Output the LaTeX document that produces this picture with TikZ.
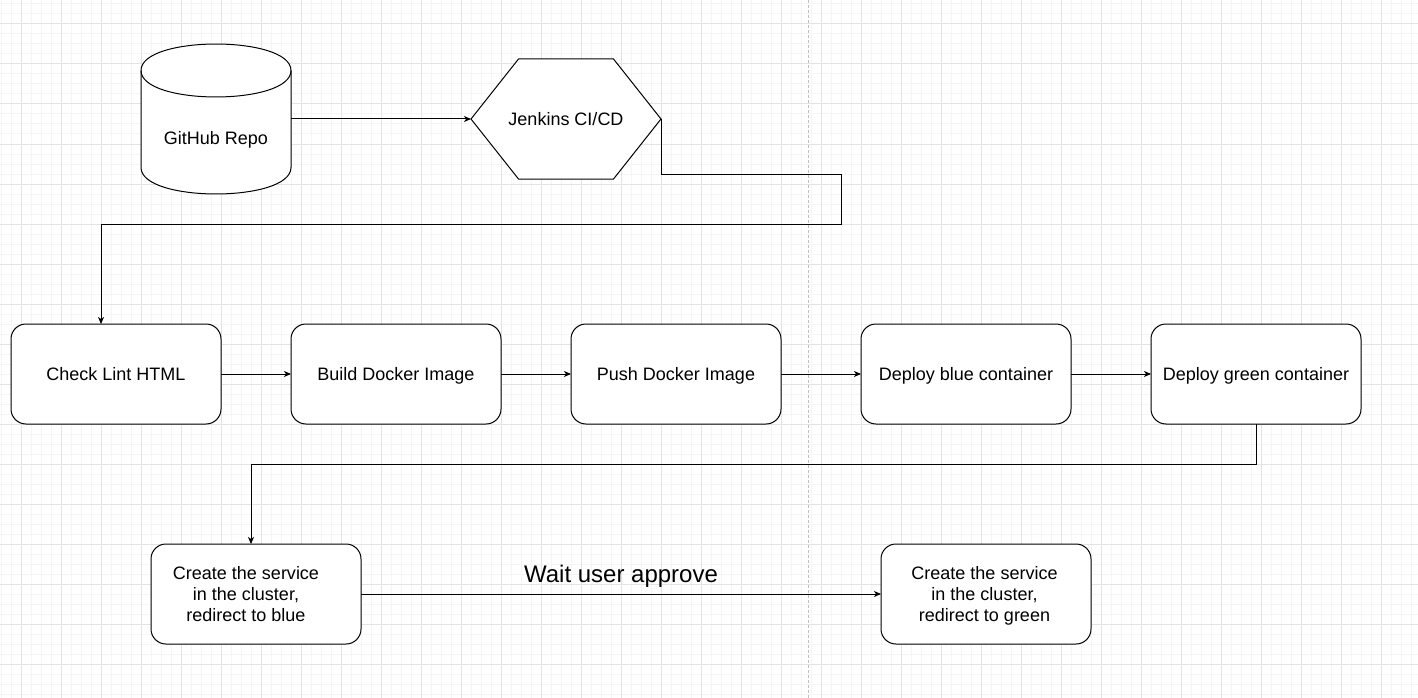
\documentclass[tikz,border=0pt]{standalone}
\usepackage{fontspec}
\setmainfont{Liberation Sans}
\usetikzlibrary{arrows.meta,calc}
\newcommand\boxfont{\fontsize{18}{21}\selectfont}
\newcommand\bigfont{\fontsize{24}{28}\selectfont}
\definecolor{gridminor}{HTML}{F5F5F5}
\definecolor{gridmajor}{HTML}{E3E3E3}
\definecolor{pagebreak}{HTML}{C0C0C0}
\begin{document}
\begin{tikzpicture}[x=1pt,y=-1pt,line width=1pt,
  minorgrid/.style={draw=gridminor,line width=1pt},
  majorgrid/.style={draw=gridmajor,line width=1pt},
  shapeline/.style={draw=black,fill=white,line width=1pt},
  box/.style={draw=black,fill=white,rounded corners=15pt,minimum width=210pt,minimum height=100pt,inner sep=0pt,outer sep=0pt,font=\boxfont,text height=12pt,text depth=0pt},
  mbox/.style={draw=black,fill=white,rounded corners=15pt,minimum width=210pt,minimum height=100pt,inner sep=0pt,outer sep=0pt},
  mtext/.style={font=\boxfont,align=center,inner sep=0pt},
  conn/.style={draw=black,line width=1pt,-{Stealth[length=7pt,width=6pt,inset=2pt]}}]
\useasboundingbox (0,0) rectangle (1418,698);
\fill[white] (0,0) rectangle (1418,698);
% grid
\foreach \x in {1,11,...,1411} \draw[minorgrid] (\x,0) -- (\x,698);
\foreach \y in {4,14,...,694} \draw[minorgrid] (0,\y) -- (1418,\y);
\foreach \x in {21,61,...,1401} \draw[majorgrid] (\x,0) -- (\x,698);
\foreach \y in {24,64,...,664} \draw[majorgrid] (0,\y) -- (1418,\y);
% page break
\draw[pagebreak,line width=1pt,dash pattern=on 3pt off 2pt] (808.5,0) -- (808.5,698);
% cylinder
\coordinate (rc) at (216,119);
\path[shapeline] ($(rc)+(-75,-48.5)$)
  .. controls ($(rc)+(-75,-83.8)$) and ($(rc)+(75,-83.8)$) .. ($(rc)+(75,-48.5)$)
  -- ($(rc)+(75,48.5)$)
  .. controls ($(rc)+(75,83.8)$) and ($(rc)+(-75,83.8)$) .. ($(rc)+(-75,48.5)$) -- cycle;
\draw[black,line width=1pt] ($(rc)+(-75,-48.5)$)
  .. controls ($(rc)+(-75,-13.2)$) and ($(rc)+(75,-13.2)$) .. ($(rc)+(75,-48.5)$);
\node[minimum width=150pt,minimum height=150pt,inner sep=0pt,outer sep=0pt] (repo) at (rc) {};
\node[font=\boxfont,anchor=base,inner sep=0pt] (repotext) at (216,144.5) {GitHub Repo};
% hexagon
\coordinate (jc) at (566,119);
\path[shapeline] ($(jc)+(-95,0)$) -- ($(jc)+(-47.5,-60)$) -- ($(jc)+(47.5,-60)$)
  -- ($(jc)+(95,0)$) -- ($(jc)+(47.5,60)$) -- ($(jc)+(-47.5,60)$) -- cycle;
\node[minimum width=190pt,minimum height=120pt,inner sep=0pt,outer sep=0pt,font=\boxfont,text height=12pt,text depth=0pt] (jenkins) at (jc) {Jenkins CI/CD};
% row of steps
\node[box] (lint)  at (116,374)  {Check Lint HTML};
\node[box] (build) at (396,374)  {Build Docker Image};
\node[box] (push)  at (676,374)  {Push Docker Image};
\node[box] (blue)  at (966,374)  {Deploy blue container};
\node[box] (green) at (1256,374) {Deploy green container};
% services
\node[mbox] (svcblue)  at (256,594) {};
\node[mtext] (svcbluetext) at (246,594) {Create the service\\in the cluster,\\redirect to blue};
\node[mbox] (svcgreen) at (986,594) {};
\node[mtext] (svcgreentext) at (984.5,596) {Create the service\\in the cluster,\\redirect to green};
% connectors
\draw[conn] (repo.east) -- (jenkins.west);
\coordinate (c1) at (841,174);
\coordinate (c2) at (101,224);
\draw[conn] (jenkins.east) |- (c1) |- (c2) -- (c2 |- lint.north);
\draw[conn] (lint.east) -- (build.west);
\draw[conn] (build.east) -- (push.west);
\draw[conn] (push.east) -- (blue.west);
\draw[conn] (blue.east) -- (green.west);
\coordinate (c3) at (251,464);
\draw[conn] (green.south) |- (c3) -- (c3 |- svcblue.north);
\draw[conn] (svcblue.east) -- node[midway,yshift=12pt,anchor=base,font=\bigfont,inner sep=0pt] (waitlabel) {Wait user approve} (svcgreen.west);
\end{tikzpicture}
\end{document}
